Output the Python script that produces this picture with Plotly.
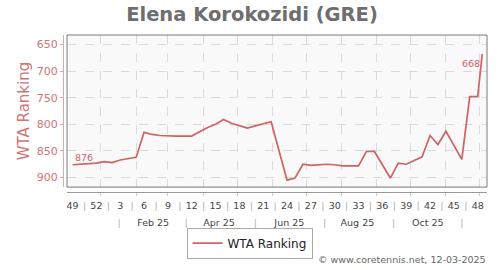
import pandas as pd
import plotly.graph_objects as go

# ---------------- data ----------------
week_dates = list(pd.date_range("2024-12-07", periods=52, freq="7D"))
dates = week_dates + [pd.Timestamp("2025-12-03")]

ranks = [876, 875, 874, 873, 870, 872, 867, 865, 862, 815,
         819, 821, 822, 822, 822, 822, 814, 806, 800, 791,
         798, 803, 807, 803, 799, 795, 850, 905, 901, 875,
         877, 876, 875, 876, 878, 878, 878, 851, 851, 876,
         901, 873, 875, 868, 861, 821, 838, 813, 839, 866,
         748, 748, 668]

week_labels = ["49", "52", "3", "6", "9", "12", "15", "18", "21", "24",
               "27", "30", "33", "36", "39", "42", "45", "48"]
week_label_dates = dates[0:52:3]
week_sep_dates = [d + pd.Timedelta(days=10.5) for d in week_label_dates[:-1]]

month_labels = ["Feb 25", "Apr 25", "Jun 25", "Aug 25", "Oct 25"]
month_label_dates = ["2025-02-16", "2025-04-15", "2025-06-16", "2025-08-15", "2025-10-16"]
month_sep_dates = ["2025-01-17", "2025-03-17", "2025-05-17", "2025-07-17", "2025-09-16", "2025-11-15"]

month_grid = list(pd.date_range("2025-01-01", "2025-12-01", freq="MS"))
y_ticks = [650, 700, 750, 800, 850, 900]

# ---------------- style ----------------
LINE = "#cc6464"
YC = "#d07474"
GRID = "#dadada"
SEP = "#b0b0b0"
XR = ["2024-12-02 02:00", "2025-12-07 05:00"]
XDOM = [4 / 424, 1]
YDOM = [5 / 160, 1]

fig = go.Figure()
fig.add_trace(go.Scatter(x=dates, y=ranks, mode="lines", name="WTA Ranking",
                         line=dict(color=LINE, width=1.7), hoverinfo="x+y"))
# empty helper traces so the overlaid label axes get drawn
for ax in ("x2", "x3"):
    fig.add_trace(go.Scatter(x=[dates[0]], y=[None], xaxis=ax, yaxis="y",
                             mode="lines", showlegend=False, hoverinfo="skip"))

sep_span = '<span style="color:%s">|</span>' % SEP
xt2_vals = list(week_label_dates) + list(week_sep_dates)
xt2_text = week_labels + [sep_span] * len(week_sep_dates)
xt3_vals = month_label_dates + month_sep_dates
xt3_text = month_labels + [sep_span] * len(month_sep_dates)

fig.update_layout(
    width=500, height=270,
    margin=dict(l=63, r=13, t=35, b=75, pad=0),
    paper_bgcolor="white", plot_bgcolor="#f9f9f9",
    font=dict(family="DejaVu Sans", color="#444"),
    title=dict(text="<b>Elena Korokozidi (GRE)</b>", x=0.504, xanchor="center",
               y=1 - 14 / 270, yanchor="middle", yref="container",
               font=dict(size=19.5, color="#6e6e6e", family="DejaVu Sans")),
    xaxis=dict(type="date", domain=XDOM, range=XR, anchor="free", position=0,
               showline=True, linecolor="#9a9a9a", linewidth=1,
               tickmode="array", tickvals=month_grid, ticks="outside", ticklen=3,
               tickcolor="#cfcfcf", showticklabels=False,
               showgrid=True, gridcolor=GRID, griddash="dash", gridwidth=1,
               zeroline=False, automargin=False, fixedrange=True),
    xaxis2=dict(type="date", overlaying="x", domain=XDOM, range=XR, anchor="free",
                position=0, side="bottom", showline=False, showgrid=False,
                tickmode="array", tickvals=xt2_vals, ticktext=xt2_text, ticks="",
                tickfont=dict(size=9.5, color="#444"), ticklabelstandoff=6,
                zeroline=False, automargin=False),
    xaxis3=dict(type="date", overlaying="x", domain=XDOM, range=XR, anchor="free",
                position=0, side="bottom", showline=False, showgrid=False,
                tickmode="array", tickvals=xt3_vals, ticktext=xt3_text, ticks="",
                tickfont=dict(size=9.5, color="#444"), ticklabelstandoff=23,
                zeroline=False, automargin=False),
    yaxis=dict(domain=YDOM, range=[918, 632], anchor="free", position=0,
               showline=True, linecolor="#e2a8a8", linewidth=1,
               tickmode="array", tickvals=y_ticks, ticks="outside", ticklen=3,
               tickcolor="#e2a8a8", tickfont=dict(size=11, color=YC),
               showgrid=True, gridcolor=GRID, griddash="dash", gridwidth=1,
               zeroline=False, automargin=False,
               title=dict(text="WTA Ranking", font=dict(size=15, color=YC), standoff=2)),
    showlegend=True,
    legend=dict(orientation="h", x=(249.5 - 63) / 424, xanchor="center",
                y=(195 - 247) / 160, yanchor="middle",
                bgcolor="white", bordercolor="#aaaaaa", borderwidth=1,
                font=dict(size=12, color="#222")),
    shapes=[dict(type="rect", xref="x domain", yref="y domain", x0=0, x1=1, y0=0, y1=1,
                 line=dict(color="#7a7a7a", width=1), layer="above")],
    annotations=[
        dict(x=dates[0], y=ranks[0], xref="x", yref="y", text=str(ranks[0]),
             showarrow=False, xanchor="left", yanchor="bottom", yshift=0,
             font=dict(size=9.5, color=LINE)),
        dict(x=dates[-1], y=ranks[-1], xref="x", yref="y", text=str(ranks[-1]),
             showarrow=False, xanchor="right", yanchor="top", yshift=-2,
             font=dict(size=9.5, color=LINE)),
        dict(x=1.002, y=(195 - 264) / 160, xref="paper", yref="paper",
             text="© www.coretennis.net, 12-03-2025", showarrow=False,
             xanchor="right", yanchor="middle", font=dict(size=9.5, color="#666")),
    ],
)

fig.write_html("out.html")
